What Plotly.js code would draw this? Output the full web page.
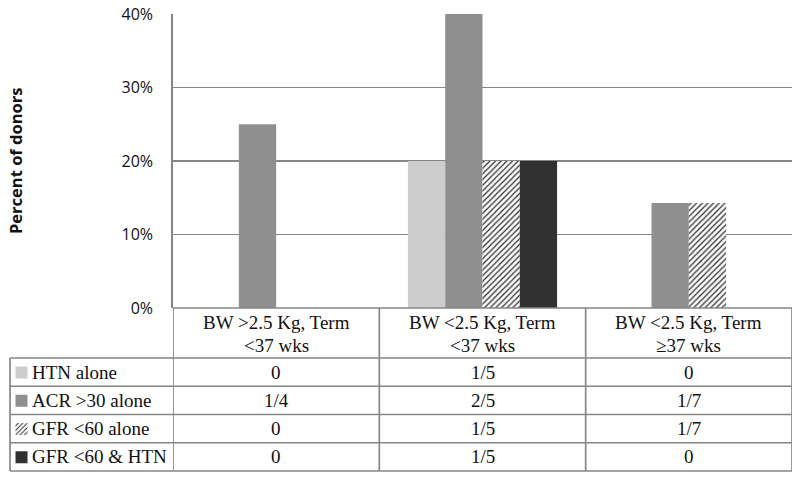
<!DOCTYPE html>
<html>
<head>
<meta charset="utf-8">
<script src="https://cdn.plot.ly/plotly-3.0.1.min.js"></script>
<style>html,body{margin:0;padding:0;background:#fff;}#chart{width:800px;height:479px;}</style>
</head>
<body>
<div id="chart"></div>
<script>
// ---- data ----
var categories = ["BW >2.5 Kg, Term\n<37 wks", "BW <2.5 Kg, Term\n<37 wks", "BW <2.5 Kg, Term\n\u226537 wks"];
var seriesNames = ["HTN alone", "ACR >30 alone", "GFR <60 alone", "GFR <60 & HTN"];
var htnAlone = [0, 20, 0];
var acrAlone = [25, 40, 14.3];
var gfrAlone = [0, 20, 14.3];
var gfrHtn = [0, 20, 0];
var htnLabels = ["0", "1/5", "0"];
var acrLabels = ["1/4", "2/5", "1/7"];
var gfrLabels = ["0", "1/5", "1/7"];
var gfrHtnLabels = ["0", "1/5", "0"];
var yTicks = [0, 10, 20, 30, 40];

// ---- styles ----
var W = 800, H = 479;
var M = {l: 173, r: 8, t: 14, b: 171, autoexpand: false};
var plotW = W - M.l - M.r, plotH = H - M.t - M.b;
var lineCol = '#868686';
var lineW = 1.7;
var serif = 'Liberation Serif, Times New Roman, serif';
var txtCol = '#111';
function esc(s) { return s.replace(/&/g, '&amp;').replace(/</g, '&lt;').replace(/>/g, '&gt;'); }
function pyPx(px) { return (M.t + plotH - px) / plotH; } // page px -> paper y
function pxPx(px) { return (px - M.l) / plotW; }       // page px -> paper x

var xIdx = [0, 1, 2];
var seriesVals = [htnAlone, acrAlone, gfrAlone, gfrHtn];
var seriesLabels = [htnLabels, acrLabels, gfrLabels, gfrHtnLabels];
var markers = [
  {color: '#cdcdcd', line: {width: 0}},
  {color: '#8f8f8f', line: {width: 0}},
  {color: '#ffffff', line: {width: 0}, pattern: {shape: '/', fgcolor: '#2a2a2a', bgcolor: '#ffffff', size: 4, solidity: 0.3}},
  {color: '#313131', line: {width: 0}}
];

var traces = seriesVals.map(function (v, i) {
  return {type: 'bar', x: xIdx, y: v, name: ' ', marker: markers[i],
          legendgroup: 'g' + i, hoverinfo: 'skip'};
});

// table geometry (page px)
var headerTop = M.t + plotH, headerBot = 358;
var tableBot = 471;
var rowH = (tableBot - headerBot) / seriesNames.length;
var tableLeft = 10;

var shapes = [];
var annotations = [];
function hline(ypx, x0) {
  shapes.push({type: 'line', xref: 'paper', yref: 'paper', x0: x0, x1: 1, y0: pyPx(ypx), y1: pyPx(ypx), line: {color: lineCol, width: lineW}});
}
hline(headerTop, 0);
for (var r = 0; r <= seriesNames.length; r++) hline(headerBot + r * rowH, pxPx(tableLeft));
shapes.push({type: 'line', xref: 'paper', yref: 'paper', x0: pxPx(tableLeft), x1: pxPx(tableLeft), y0: pyPx(headerBot), y1: pyPx(tableBot), line: {color: lineCol, width: lineW}});
for (var c = 0; c <= categories.length; c++) {
  shapes.push({type: 'line', xref: 'x', yref: 'paper', x0: c - 0.5, x1: c - 0.5, y0: pyPx(headerTop), y1: pyPx(tableBot), line: {color: lineCol, width: lineW}});
}
// header text (one annotation per line for tighter line spacing)
var headerLineY = [322.5, 345];
categories.forEach(function (cat, i) {
  cat.split('\n').forEach(function (ln, k) {
    annotations.push({xref: 'x', yref: 'paper', x: i, y: pyPx(headerLineY[k]), text: esc(ln), showarrow: false,
                      font: {family: serif, size: 19, color: txtCol}, xanchor: 'center', yanchor: 'middle'});
  });
});
// cell text + row labels
seriesLabels.forEach(function (labs, r) {
  var yc = pyPx(headerBot + (r + 0.5) * rowH);
  annotations.push({xref: 'paper', yref: 'paper', x: pxPx(30), y: yc, text: esc(seriesNames[r]), showarrow: false,
                    font: {family: serif, size: 19, color: txtCol}, xanchor: 'left', yanchor: 'middle'});
  labs.forEach(function (t, i) {
    annotations.push({xref: 'x', yref: 'paper', x: i, y: yc, text: esc(t), showarrow: false,
                      font: {family: serif, size: 19, color: txtCol}, xanchor: 'center', yanchor: 'middle'});
  });
});
// y title
annotations.push({xref: 'paper', yref: 'paper', x: pxPx(15), y: 0.5, text: '<b>Percent of donors</b>', textangle: -90, showarrow: false,
                  font: {family: 'Open Sans, sans-serif', size: 16.5, color: txtCol}, xanchor: 'center', yanchor: 'middle'});

var layout = {
  width: W, height: H,
  margin: M,
  paper_bgcolor: '#fff', plot_bgcolor: '#fff',
  barmode: 'group', bargap: 0.277, bargroupgap: 0,
  showlegend: true,
  legend: {x: pxPx(1.5), xanchor: 'left', y: pyPx(headerBot - 4.4), yanchor: 'top', bgcolor: 'rgba(0,0,0,0)',
           traceorder: 'grouped', tracegroupgap: 0.55, font: {family: serif, size: 19, color: txtCol}},
  xaxis: {type: 'linear', range: [-0.5, 2.5], showticklabels: false, showgrid: false, zeroline: false, showline: false, fixedrange: true},
  yaxis: {range: [0, 40], tickvals: yTicks, ticktext: yTicks.map(function (v) { return v + '%'; }),
          showgrid: true, gridcolor: lineCol, gridwidth: lineW, showline: true, linecolor: lineCol, linewidth: lineW,
          zeroline: false, ticks: '', ticklabelstandoff: 15,
          tickfont: {family: 'Open Sans, sans-serif', size: 16, color: txtCol}},
  shapes: shapes,
  annotations: annotations
};

Plotly.newPlot('chart', traces, layout, {staticPlot: true, displayModeBar: false});
</script>
</body>
</html>
